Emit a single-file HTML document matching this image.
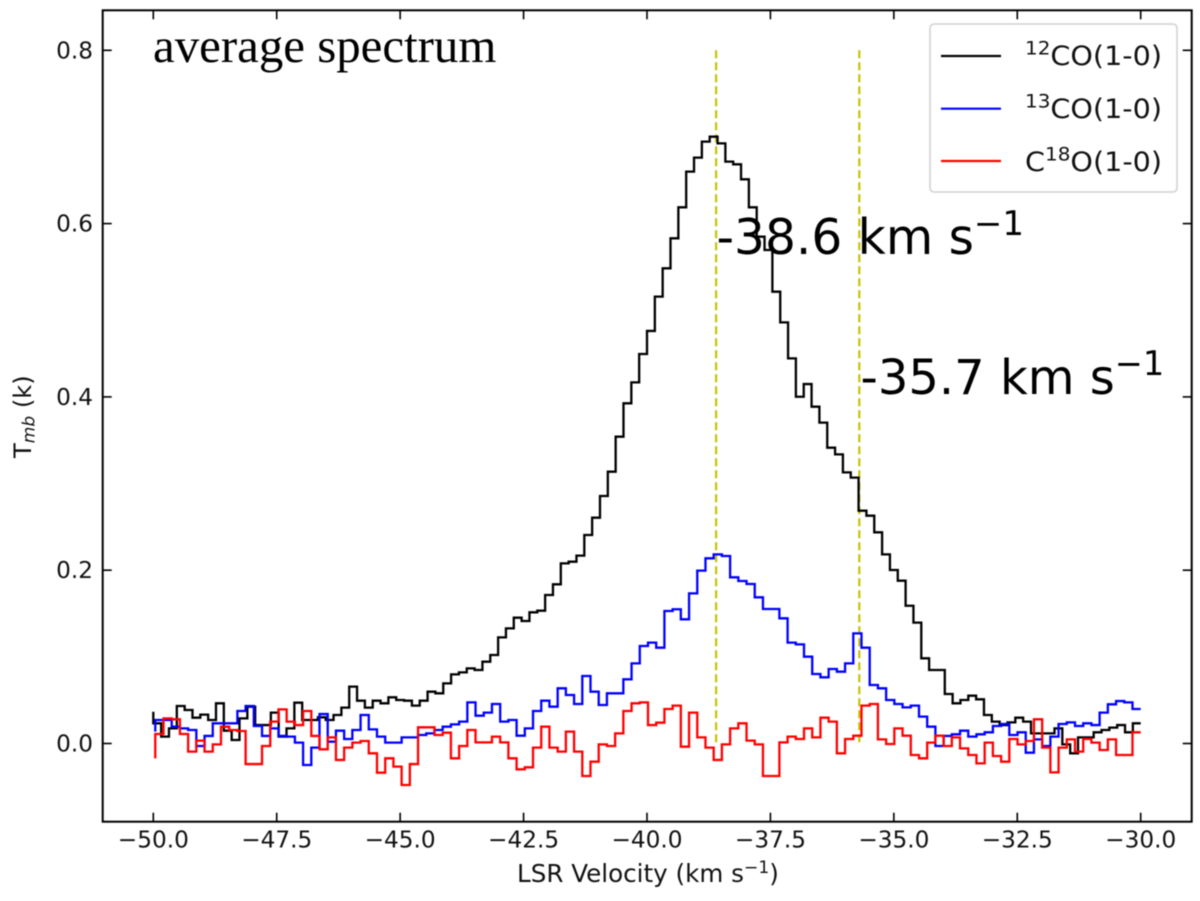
<!DOCTYPE html>
<html lang="en">
<head>
<meta charset="utf-8">
<title>Average spectrum</title>
<style>
html,body{margin:0;padding:0;background:#fff;}
#chart{display:block;width:1200px;height:901px;filter:blur(0.45px);font-family:"DejaVu Sans","Liberation Sans",sans-serif;}
</style>
</head>
<body>
<svg id="chart" xmlns="http://www.w3.org/2000/svg" width="1200" height="901" viewBox="0 0 1200 901">
  <rect x="0" y="0" width="1200" height="901" fill="#fff"/>
  <g id="guides"></g>
  <g id="series"></g>
  <rect x="102.7" y="10.3" width="1089" height="811.4" fill="none" stroke="#000" stroke-width="2"/>
  <g id="ticks"></g>

  <text x="517" y="882" font-size="24.6" fill="#111">LSR Velocity (km s<tspan font-size="17.2" dy="-9">−1</tspan><tspan dy="9">)</tspan></text>
  <text transform="translate(31,458) rotate(-90)" font-size="24.2" fill="#111">T<tspan font-size="17" font-style="italic" dy="3.5">mb</tspan><tspan dy="-3.5"> (k)</tspan></text>

  <text x="153" y="62" font-size="48.9" fill="#000" style="font-family:'Liberation Serif',serif">average spectrum</text>
  <text x="716.5" y="254" font-size="48.6" fill="#000">-38.6 km s<tspan font-size="34" dy="-19">−1</tspan></text>
  <text x="860.5" y="394" font-size="48" fill="#000">-35.7 km s<tspan font-size="33.6" dy="-19">−1</tspan></text>

  <g>
    <rect x="930" y="24" width="247" height="168" rx="4" ry="4" fill="#fff" fill-opacity="0.8" stroke="#d2d2d2" stroke-width="1.6"/>
    <line x1="941" x2="1001" y1="56" y2="56" stroke="#000" stroke-width="2.2"/>
    <line x1="941" x2="1001" y1="108.7" y2="108.7" stroke="#0000ff" stroke-width="2.2"/>
    <line x1="941" x2="1001" y1="161" y2="161" stroke="#ff0000" stroke-width="2.2"/>
    <text transform="translate(1025,65) scale(1.08,1)" font-size="26.5" fill="#111"><tspan font-size="18.5" dy="-10.5">12</tspan><tspan dy="10.5">CO(1-0)</tspan></text>
    <text transform="translate(1025,118) scale(1.08,1)" font-size="26.5" fill="#111"><tspan font-size="18.5" dy="-10.5">13</tspan><tspan dy="10.5">CO(1-0)</tspan></text>
    <text transform="translate(1025,171) scale(1.08,1)" font-size="26.5" fill="#111">C<tspan font-size="18.5" dy="-10.5">18</tspan><tspan dy="10.5">O(1-0)</tspan></text>
  </g>
</svg>
<script>
const xTickValues = [-50, -47.5, -45, -42.5, -40, -37.5, -35, -32.5, -30];
const xTickLabels = ["−50.0", "−47.5", "−45.0", "−42.5", "−40.0", "−37.5", "−35.0", "−32.5", "−30.0"];
const yTickValues = [0, 0.2, 0.4, 0.6, 0.8];
const yTickLabels = ["0.0", "0.2", "0.4", "0.6", "0.8"];
const guideVelocities = [-38.6, -35.7];
const guideRange = [0, 0.8];

const co12Start = -50, co12End = -30;
const co12 = [
  .0367,.0233,.0079,.0175,.0433,.0387,.0298,.0333,.0271,.0464,.0148,.0040,.0290,.0425,.0213,.0213,.0356,.0079,.0175,.0471,
  .0271,.0271,.0302,.0271,.0329,.0414,.0656,.0494,.0414,.0494,.0464,.0533,.0502,.0494,.0437,.0494,.0598,.0579,.0694,
  .0798,.0821,.0867,.0848,.0944,.1021,.1225,.1329,.1452,.1414,.1514,.1533,.1714,.1837,.2079,.2098,.2168,
  .2406,.2606,.2856,.3137,.3541,.3926,.4168,.4495,
  .4761,.5157,.5484,.5830,.6188,.6600,.6761,.6946,.7003,.6926,.6715,.6684,.6511,.6188,.5849,.5695,.5214,.4860,.4445,.4002,
  .4148,.3887,.3703,.3414,.3337,.3129,.3068,.2687,.2629,.2437,
  .2183,.2002,.1879,.1590,.1395,
  .0983,.0848,.0848,.0571,.0464,.0502,.0552,.0510,.0329,.0252,.0213,.0244,.0298,.0252,.0117,.0117,.0117,.0175,-.0010,-.0113,
  .0071,.0071,.0129,.0156,.0183,.0213,.0129,.0233
];

const co13Start = -49.96, co13End = -30;
const co13 = [
  .0137,.0271,.0271,.0194,.0175,.0156,-.0029,.0087,.0233,.0233,.0233,.0375,.0433,.0202,.0087,.0175,.0087,.0079,.0010,-.0248,
  -.0048,.0340,.0021,.0148,.0052,.0156,.0329,.0163,.0079,.0010,.0010,.0071,.0071,.0098,.0117,.0156,.0194,
  .0221,.0252,.0475,.0321,.0356,.0456,.0252,.0271,.0090,.0175,.0375,.0494,.0425,.0637,.0560,.0456,.0779,.0598,.0444,.0579,
  .0579,.0741,.0925,.1125,.1164,.1106,.1529,.1549,.1433,.1733,.1995,.2137,.2183,.2164,.1918,.1875,.1841,.1687,.1552,.1552,
  .1445,.1164,
  .1144,.1002,.0802,.0764,.0860,.0829,.0925,.1271,.1106,.0675,.0637,.0502,.0456,.0417,.0437,.0310,.0194,-.0029,.0087,.0106,
  .0148,.0079,.0106,.0129,.0202,.0225,.0098,.0129,-.0106,.0048,-.0029,.0079,.0225,.0244,.0202,.0233,.0213,.0356,.0452,.0490,
  .0475,.0398
];

const c18oStart = -49.96, c18oEnd = -30;
const c18o = [
  -.0171,.0110,.0290,.0279,.0110,-.0094,.0033,-.0094,-.0010,.0194,.0156,.0144,-.0237,-.0237,-.0029,.0252,.0394,.0252,.0213,.0375,
  .0087,-.0067,.0071,-.0190,-.0048,.0010,.0029,-.0113,-.0337,-.0171,-.0267,-.0479,-.0237,.0187,.0187,.0098,.0125,
  -.0171,-.0029,.0156,.0013,.0013,.0079,.0013,-.0171,-.0298,-.0275,-.0048,.0194,-.0048,-.0094,.0137,-.0094,-.0375,-.0210,-.0010,-.0029,
  .0117,.0375,.0464,.0475,.0213,.0240,.0398,.0437,-.0037,.0356,.0071,-.0048,-.0190,-.0010,.0175,.0233,.0033,-.0010,-.0375,-.0375,
  .0013,.0079,
  .0052,.0175,.0071,.0298,.0252,-.0113,.0052,.0090,.0437,.0456,.0048,-.0006,.0175,.0090,-.0133,-.0171,.0010,.0090,-.0029,.0071,
  -.0056,-.0133,-.0229,.0010,-.0144,-.0210,.0052,-.0010,.0029,.0279,-.0048,-.0333,-.0048,.0048,-.0094,.0052,.0010,-.0075,.0048,-.0133,
  -.0133,.0129
];

const SVG_NS = "http://www.w3.org/2000/svg";
const xPos = v => 153.3 + (v + 50) * 49.37;
const yPos = t => 743.5 - 866.5 * t;

function stepsPrePath(values, start, end) {
  const dv = (end - start) / (values.length - 1);
  let d = "M" + xPos(start).toFixed(2) + " " + yPos(values[0]).toFixed(2);
  for (let i = 1; i < values.length; i++) {
    const py = yPos(values[i]).toFixed(2);
    d += "V" + py + "H" + xPos(start + i * dv).toFixed(2);
  }
  return d;
}

const guidesGroup = document.getElementById("guides");
guideVelocities.forEach(function (v) {
  const ln = document.createElementNS(SVG_NS, "line");
  ln.setAttribute("x1", xPos(v));
  ln.setAttribute("x2", xPos(v));
  ln.setAttribute("y1", yPos(guideRange[1]));
  ln.setAttribute("y2", yPos(guideRange[0]));
  ln.setAttribute("stroke", "#c4c400");
  ln.setAttribute("stroke-width", "2.2");
  ln.setAttribute("stroke-dasharray", "8 4");
  
  
  guidesGroup.appendChild(ln);
});

const seriesGroup = document.getElementById("series");
function addSeries(values, start, end, color, name) {
  const p = document.createElementNS(SVG_NS, "path");
  p.setAttribute("d", stepsPrePath(values, start, end));
  p.setAttribute("fill", "none");
  p.setAttribute("stroke", color);
  p.setAttribute("stroke-width", "2.3");
  p.setAttribute("stroke-linejoin", "miter");
  
  
  seriesGroup.appendChild(p);
}
addSeries(co12, co12Start, co12End, "#000000", "series-12co");
addSeries(co13, co13Start, co13End, "#0000ff", "series-13co");
addSeries(c18o, c18oStart, c18oEnd, "#ff0000", "series-c18o");

const ticksGroup = document.getElementById("ticks");
const frameLeft = 102.7, frameRight = 1191.7, frameTop = 10.3, frameBottom = 821.7, tickLen = 9;
function addTick(x1, y1, x2, y2) {
  const t = document.createElementNS(SVG_NS, "line");
  t.setAttribute("x1", x1);
  t.setAttribute("y1", y1);
  t.setAttribute("x2", x2);
  t.setAttribute("y2", y2);
  t.setAttribute("stroke", "#000");
  t.setAttribute("stroke-width", "1.6");
  
  
  ticksGroup.appendChild(t);
}
function addTickLabel(x, y, anchor, label, name) {
  const t = document.createElementNS(SVG_NS, "text");
  t.setAttribute("x", x);
  t.setAttribute("y", y);
  t.setAttribute("text-anchor", anchor);
  t.setAttribute("font-size", "23.2");
  t.setAttribute("fill", "#111");
  t.textContent = label;
  
  
  ticksGroup.appendChild(t);
}
xTickValues.forEach(function (v, i) {
  const x = xPos(v);
  addTick(x, frameBottom, x, frameBottom - tickLen);
  addTick(x, frameTop, x, frameTop + tickLen);
  addTickLabel(x, 847.5, "middle", xTickLabels[i], "x-tick-label");
});
yTickValues.forEach(function (v, i) {
  const y = yPos(v);
  addTick(frameLeft, y, frameLeft + tickLen, y);
  addTick(frameRight, y, frameRight - tickLen, y);
  addTickLabel(93, y + 8, "end", yTickLabels[i], "y-tick-label");
});
</script>
</body>
</html>
